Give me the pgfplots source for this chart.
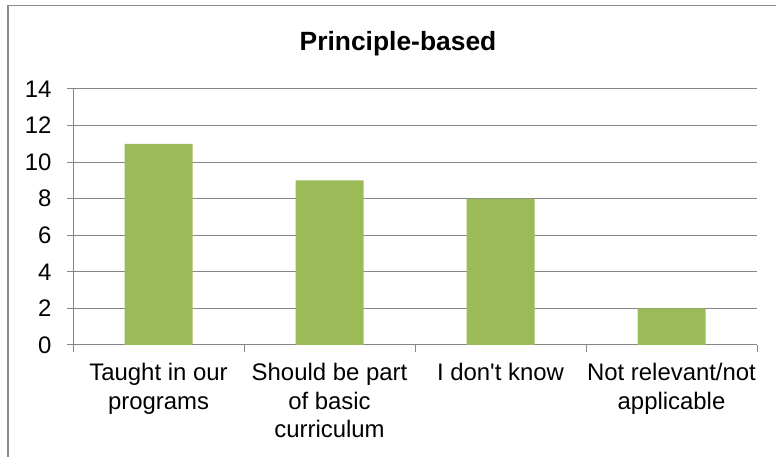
\documentclass[border=0pt]{standalone}
\usepackage{pgfplots}
\pgfplotsset{compat=1.18}
\usepackage{fontspec}
\setmainfont{Liberation Sans}
\definecolor{barg}{HTML}{9BBB59}
\definecolor{gridg}{HTML}{868686}
\definecolor{frameg}{HTML}{8C8C8C}
\begin{document}
\begin{tikzpicture}[x=1bp,y=1bp]
\useasboundingbox (0,0) rectangle (776,457);
\draw[color=frameg, line width=1.5bp] (8,0) -- (8,451.5) -- (776,451.5);
\node[anchor=base, font=\fontsize{26.5}{30}\selectfont\bfseries] at (398,406) {Principle-based};
\begin{axis}[
  at={(73bp,112bp)}, anchor=south west,
  scale only axis, width=684bp, height=256bp,
  ymin=0, ymax=14, ytick={0,2,...,14},
  xmin=-0.5, xmax=3.5,
  xtick={0,1,2,3},
  xticklabels={{Taught in our\\programs},{Should be part\\of basic\\curriculum},{I don\textquotesingle t know},{Not relevant/not\\applicable}},
  minor xtick={-0.5,0.5,1.5,2.5,3.5},
  major x tick style={draw=none},
  axis x line*=bottom, axis y line*=left,
  tick align=outside,
  major tick length=6bp, minor tick length=7bp,
  tick style={gridg, line width=1bp},
  axis line style={gridg, line width=1bp},
  ymajorgrids, grid style={gridg, line width=1bp},
  ybar, bar width=68bp,
  /pgf/number format/assume math mode=true,
  ticklabel style={font=\fontsize{24}{28.5}\selectfont},
  xticklabel style={align=center, anchor=north, yshift=-9bp},
  yticklabel style={anchor=east, xshift=-12bp},
]
\addplot[fill=barg, draw=none] coordinates {(0,11) (1,9) (2,8) (3,2)};
\end{axis}
\end{tikzpicture}
\end{document}
